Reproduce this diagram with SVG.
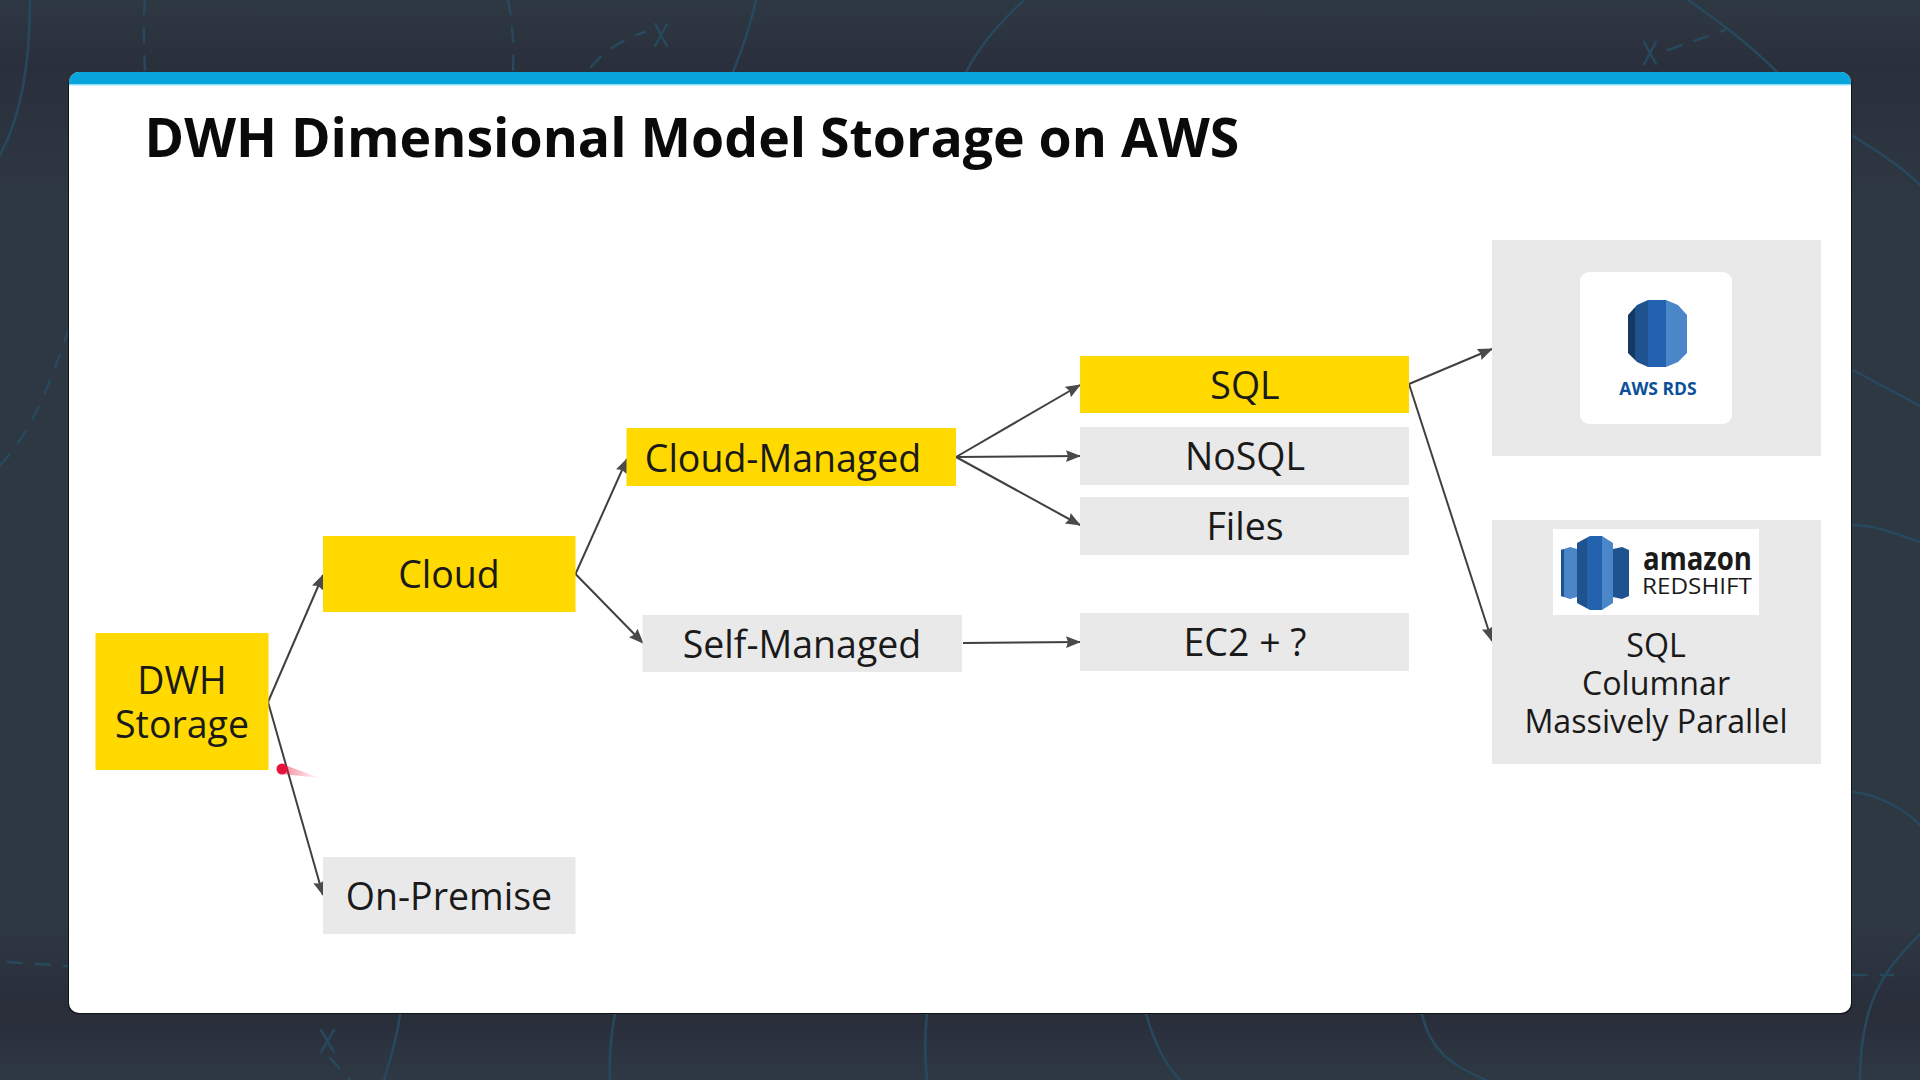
<svg xmlns="http://www.w3.org/2000/svg" width="1920" height="1080" viewBox="0 0 1920 1080">
<style>
.t{font-family:"Open Sans","Liberation Sans",sans-serif;fill:#1a1a1a;font-size:37.5px;text-anchor:middle}
.y{fill:#ffd900}.g{fill:#e9e9e9}
.bg{fill:none;stroke:#27495e;stroke-width:2.5;stroke-linecap:round}
.d{stroke-dasharray:14 14}
.c{fill:none;stroke:#404040;stroke-width:2;marker-end:url(#a)}
</style>
<defs>
<marker id="a" markerUnits="userSpaceOnUse" markerWidth="16" markerHeight="14" refX="14" refY="6" orient="auto"><path d="M0 0L15 6L0 12L2 6Z" fill="#4a4a4a"/></marker>
<linearGradient id="bgv" x1="0" y1="0" x2="0" y2="1">
<stop offset="0" stop-color="#2e3843"/><stop offset=".06" stop-color="#2a303b"/><stop offset=".2" stop-color="#2e3843"/><stop offset=".85" stop-color="#2e3843"/><stop offset=".94" stop-color="#292e39"/><stop offset="1" stop-color="#2e3944"/>
</linearGradient>
<linearGradient id="trail" x1="0" y1="0" x2="1" y2="0"><stop offset="0" stop-color="#e8143c" stop-opacity=".5"/><stop offset="1" stop-color="#e8143c" stop-opacity="0"/></linearGradient>
<clipPath id="rdsc"><polygon points="1628,315 1637,305 1648,300 1666,300 1678,305 1687,315 1687,353 1678,362 1666,367 1648,367 1637,362 1628,353"/></clipPath>
<clipPath id="rsc"><polygon points="1577,543 1590,536 1602,536 1613,543 1613,603 1602,610 1590,610 1577,603"/></clipPath>
</defs>
<rect width="1920" height="1080" fill="url(#bgv)"/>
<g id="background-lines">
<path class="bg" d="M30 0C30 60 22 115 0 155"/>
<path class="bg d" d="M145 0C143 25 144 50 145 72"/>
<path class="bg d" d="M508 0C513 25 514 50 513 72"/>
<path class="bg d" d="M591 67C605 50 625 38 645 32"/>
<path class="bg" d="M655 24L667 46M667 24L655 46"/>
<path class="bg" d="M756 0C750 28 742 50 733 72"/>
<path class="bg" d="M1024 0C1000 22 980 45 966 72"/>
<path class="bg" d="M1644 42L1656 64M1656 42L1644 64"/>
<path class="bg d" d="M1668 50L1725 30"/>
<path class="bg" d="M1688 0C1720 22 1750 45 1777 72"/>
<path class="bg" d="M1853 136C1875 150 1900 165 1920 185"/>
<path class="bg" d="M1853 370C1875 382 1900 395 1920 406"/>
<path class="bg" d="M1853 525C1875 525 1900 535 1920 542"/>
<path class="bg" d="M1853 792C1880 795 1905 810 1920 825"/>
<path class="bg" d="M1920 934C1890 965 1860 995 1860 1080"/>
<path class="bg d" d="M1853 975L1893 975"/>
<path class="bg d" d="M69 328C50 385 30 435 0 465"/>
<path class="bg d" d="M8 962L69 966"/>
<path class="bg" d="M321 1030L334 1052M334 1030L321 1052"/>
<path class="bg d" d="M330 1058L350 1080"/>
<path class="bg" d="M400 1014C397 1040 390 1060 384 1080"/>
<path class="bg" d="M615 1014C610 1040 609 1060 610 1080"/>
<path class="bg" d="M927 1014C924 1040 925 1060 927 1080"/>
<path class="bg" d="M1146 1014C1155 1045 1165 1065 1180 1080"/>
<path class="bg" d="M1422 1014C1430 1050 1450 1065 1486 1080"/>
</g>
<g id="card">
<rect x="68" y="74" width="1784" height="940" rx="10" fill="#101216"/>
<rect x="69" y="72" width="1782" height="941" rx="10" fill="#fff"/>
<path d="M69 84V82A10 10 0 0 1 79 72H1841A10 10 0 0 1 1851 82V84Z" fill="#07a5dc"/>
<rect x="69" y="84" width="1782" height="1.5" fill="#8fe0f7"/>
</g>
<text id="title" class="t" x="144.500" y="157" style="font-size:53.6px;font-weight:700;text-anchor:start;fill:#0a0a0a">DWH Dimensional Model Storage on AWS</text>
<g id="connectors">
<path class="c" d="M268 702L323 575"/>
<path class="c" d="M268 702L323 895"/>
<path class="c" d="M575.500 574L627 459"/>
<path class="c" d="M575.500 574L643 643"/>
<path class="c" d="M956 457L1080 385"/>
<path class="c" d="M956 457L1080 456"/>
<path class="c" d="M956 457L1080 525"/>
<path class="c" d="M963 643L1080 642"/>
<path class="c" d="M1409 384L1492 349"/>
<path class="c" d="M1409 384L1492 641"/>
</g>
<g id="dwh-storage"><rect class="y" x="95.500" y="633" width="173" height="137"/><text class="t" x="182" y="694">DWH</text><text class="t" x="182" y="738">Storage</text></g>
<g id="cloud"><rect class="y" x="323" y="536" width="252.500" height="76"/><text class="t" x="449" y="588">Cloud</text></g>
<g id="on-premise"><rect class="g" x="323" y="857" width="252.500" height="77"/><text class="t" x="449" y="910">On-Premise</text></g>
<g id="cloud-managed"><rect class="y" x="626.500" y="428" width="329.500" height="58"/><text class="t" x="783" y="472">Cloud-Managed</text></g>
<g id="self-managed"><rect class="g" x="642.500" y="615" width="319.500" height="57"/><text class="t" x="802" y="658">Self-Managed</text></g>
<g id="sql"><rect class="y" x="1080" y="356" width="329" height="57"/><text class="t" x="1245" y="399">SQL</text></g>
<g id="nosql"><rect class="g" x="1080" y="427" width="329" height="58"/><text class="t" x="1245" y="470">NoSQL</text></g>
<g id="files"><rect class="g" x="1080" y="497" width="329" height="58"/><text class="t" x="1245" y="540">Files</text></g>
<g id="ec2"><rect class="g" x="1080" y="613" width="329" height="58"/><text class="t" x="1245" y="656">EC2 + ?</text></g>
<g id="aws-rds">
<rect class="g" x="1492" y="240" width="329" height="216"/>
<rect x="1580" y="272" width="152" height="152" rx="9" fill="#fff"/>
<g clip-path="url(#rdsc)">
<rect x="1628" y="300" width="7" height="67" fill="#143a63"/>
<rect x="1635" y="300" width="13" height="67" fill="#1f5390"/>
<rect x="1648" y="300" width="18" height="67" fill="#2262ae"/>
<rect x="1666" y="300" width="21" height="67" fill="#4b86c8"/>
</g>
<text x="1658" y="395" style="font-family:'Open Sans','Liberation Sans',sans-serif;font-size:17.5px;font-weight:700;fill:#0b4f9a;text-anchor:middle">AWS RDS</text>
</g>
<g id="amazon-redshift">
<rect class="g" x="1492" y="520" width="329" height="244"/>
<rect x="1553" y="529" width="206" height="86" fill="#fff"/>
<polygon points="1561,550 1570,547 1577,549 1577,597 1570,599 1561,596" fill="#4b86c8"/>
<polygon points="1561,550 1564,549 1564,597 1561,596" fill="#1f5390"/>
<polygon points="1613,549 1622,547 1629,550 1629,596 1622,599 1613,597" fill="#1f5390"/>
<g clip-path="url(#rsc)">
<rect x="1577" y="536" width="10" height="74" fill="#1f5390"/>
<rect x="1587" y="536" width="15" height="74" fill="#2262ae"/>
<rect x="1602" y="536" width="11" height="74" fill="#4b86c8"/>
</g>
<text x="1643" y="570" textLength="109" lengthAdjust="spacingAndGlyphs" style="font-family:'Open Sans','Liberation Sans',sans-serif;font-size:33px;font-weight:700;fill:#1a1a1a">amazon</text>
<text x="1642" y="594" textLength="110" lengthAdjust="spacingAndGlyphs" style="font-family:'Open Sans','Liberation Sans',sans-serif;font-size:22px;fill:#1a1a1a">REDSHIFT</text>
<text class="t" x="1656" y="657" style="font-size:32.2px">SQL</text>
<text class="t" x="1656" y="695" style="font-size:32.2px">Columnar</text>
<text class="t" x="1656" y="733" style="font-size:32.2px">Massively Parallel</text>
</g>
<g id="pointer">
<polygon points="282,764 320,778 282,774" fill="url(#trail)"/>
<circle cx="282" cy="769" r="5.500" fill="#e8143c"/>
</g>
</svg>
